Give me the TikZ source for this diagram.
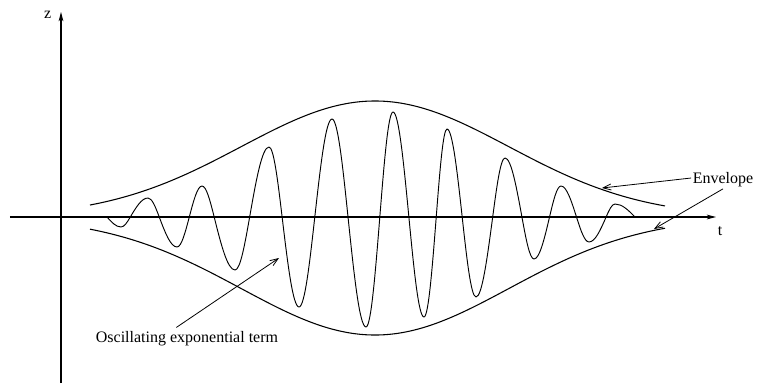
\documentclass[tikz,border=0pt]{standalone}
\usepackage{fontspec}
\setmainfont{Liberation Serif}
\usetikzlibrary{arrows.meta}
\tikzset{
  every node/.style={font=\fontsize{12}{14}\selectfont, text=black},
  axis/.style={-{Stealth[length=7pt,width=3.6pt,inset=2pt]}, line width=0.8pt},
  curve/.style={line width=0.8pt, line join=round},
  wave/.style={line width=0.7pt, line join=round},
  pointer/.style={-{Straight Barb[length=6pt,width=4.5pt]}, line width=0.6pt},
  tag/.style={inner sep=1pt},
}

\begin{document}
\begin{tikzpicture}[x=0.75pt,y=0.75pt]
\useasboundingbox (-61,-166) rectangle (696,217);

% envelope: centre and width (in hundreds) of the gaussian
\def\tc{314}
\def\ts{1.8915}

% ---- Axes ----------------------------------------------------------------
\coordinate (o) at (0,0);
\draw[axis] (0,-166) -- (0,205) node[tag, anchor=east, xshift=-6pt, yshift=-2pt] (z) {z};
\draw[axis] (-51,0) -- (655,0) node[tag, anchor=north, xshift=3pt, yshift=-6pt] (t) {t};

% ---- Envelope --------------------------------------------------------------
\draw[curve] plot[domain=29:604, samples=120, smooth]
  (\x,{116*exp(-((\x-\tc)/(100*\ts))^2)});
\draw[curve] plot[domain=29:604, samples=120, smooth]
  (\x,{-118*exp(-((\x-\tc)/(100*\ts))^2)});

% ---- Oscillating term (extremum to extremum) -----------------------------
\draw[wave] (46,0) sin (60,-10)
  \foreach \x/\y [remember=\x as \lx (initially 60), remember=\y as \ly (initially -10)] in
    {87/19, 116/-30, 141/31, 174/-53, 208/70, 238/-90, 271/98, 305/-110,
     332/105, 363/-100, 386/88, 415/-80, 444/59, 473/-42, 500/31, 528/-25, 554/13}
  { cos ({\lx+(\x-\lx)*abs(\ly)/(abs(\ly)+abs(\y))},0) sin (\x,\y) }
  cos (574,0);

% ---- Labels ----------------------------------------------------------------
\coordinate (envup) at (541,29);
\coordinate (envlow) at (593,-12);
\coordinate (osctip) at (218,-41);

\node[tag] (env) at (662,37) {Envelope};
\node[tag] (osc) at (126,-122) {Oscillating exponential term};

\draw[pointer] ([yshift=1.5pt]env.west) -- (envup);
\draw[pointer] (env.south) -- (envlow);
\draw[pointer] ([xshift=-8pt,yshift=2pt]osc.north) -- (osctip);

\end{tikzpicture}
\end{document}
